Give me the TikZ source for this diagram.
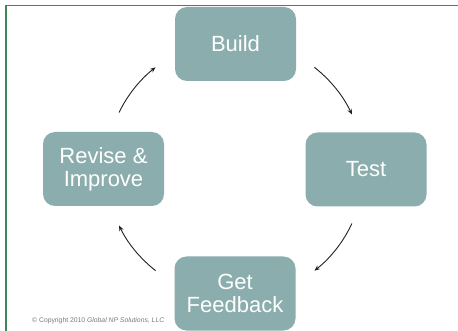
\documentclass[tikz,border=0pt]{standalone}
\usepackage{fontspec}
\setmainfont{Liberation Sans}
\usetikzlibrary{arrows.meta}
\definecolor{boxfill}{HTML}{8BADAD}
\definecolor{frame}{HTML}{3D875A}
\definecolor{note}{HTML}{7A7A7A}
\definecolor{arrowc}{HTML}{222222}
\tikzset{
  stagebox/.style={draw=none, fill=boxfill, rounded corners=12pt,
    minimum width=121pt, minimum height=74pt, inner sep=0pt,
    align=center, text=white, font=\fontsize{22}{23}\selectfont},
  cyclearrow/.style={draw=arrowc, line width=0.9pt,
    -{Stealth[length=5.5pt,width=4.5pt]}}
}
\begin{document}
\begin{tikzpicture}[x=1pt,y=-1pt]
  \useasboundingbox (0,0) rectangle (458,331);
  \fill[white] (0,0) rectangle (458,331);
  % slide frame
  \draw[frame, line width=1.5pt] (6,332) -- (6,5.5) -- (459,5.5);

  % stages of the cycle
  \node[stagebox] (build)    at (235.5,44)  {Build};
  \node[stagebox] (test)     at (366,169.5) {Test};
  \node[stagebox] (feedback) at (235,293.5) {Get\\Feedback};
  \node[stagebox] (revise)   at (103.5,169) {Revise \&\\Improve};

  % centre of the circle the arrows follow
  \coordinate (hub) at (235,169);

  \draw[cyclearrow] ([shift={(hub)}]-52:129) arc[start angle=-52, end angle=-25, radius=129];
  \draw[cyclearrow] ([shift={(hub)}]25:129)  arc[start angle=25,  end angle=52,  radius=129];
  \draw[cyclearrow] ([shift={(hub)}]128:129) arc[start angle=128, end angle=154, radius=129];
  \draw[cyclearrow] ([shift={(hub)}]206:129) arc[start angle=206, end angle=232, radius=129];

  % copyright line
  \node[anchor=west, inner sep=0pt, text=note, font=\fontsize{6.8}{8}\selectfont] (copy) at (32,321)
    {\textcopyright{} Copyright 2010 \textit{Global NP Solutions, LLC}};
\end{tikzpicture}
\end{document}
